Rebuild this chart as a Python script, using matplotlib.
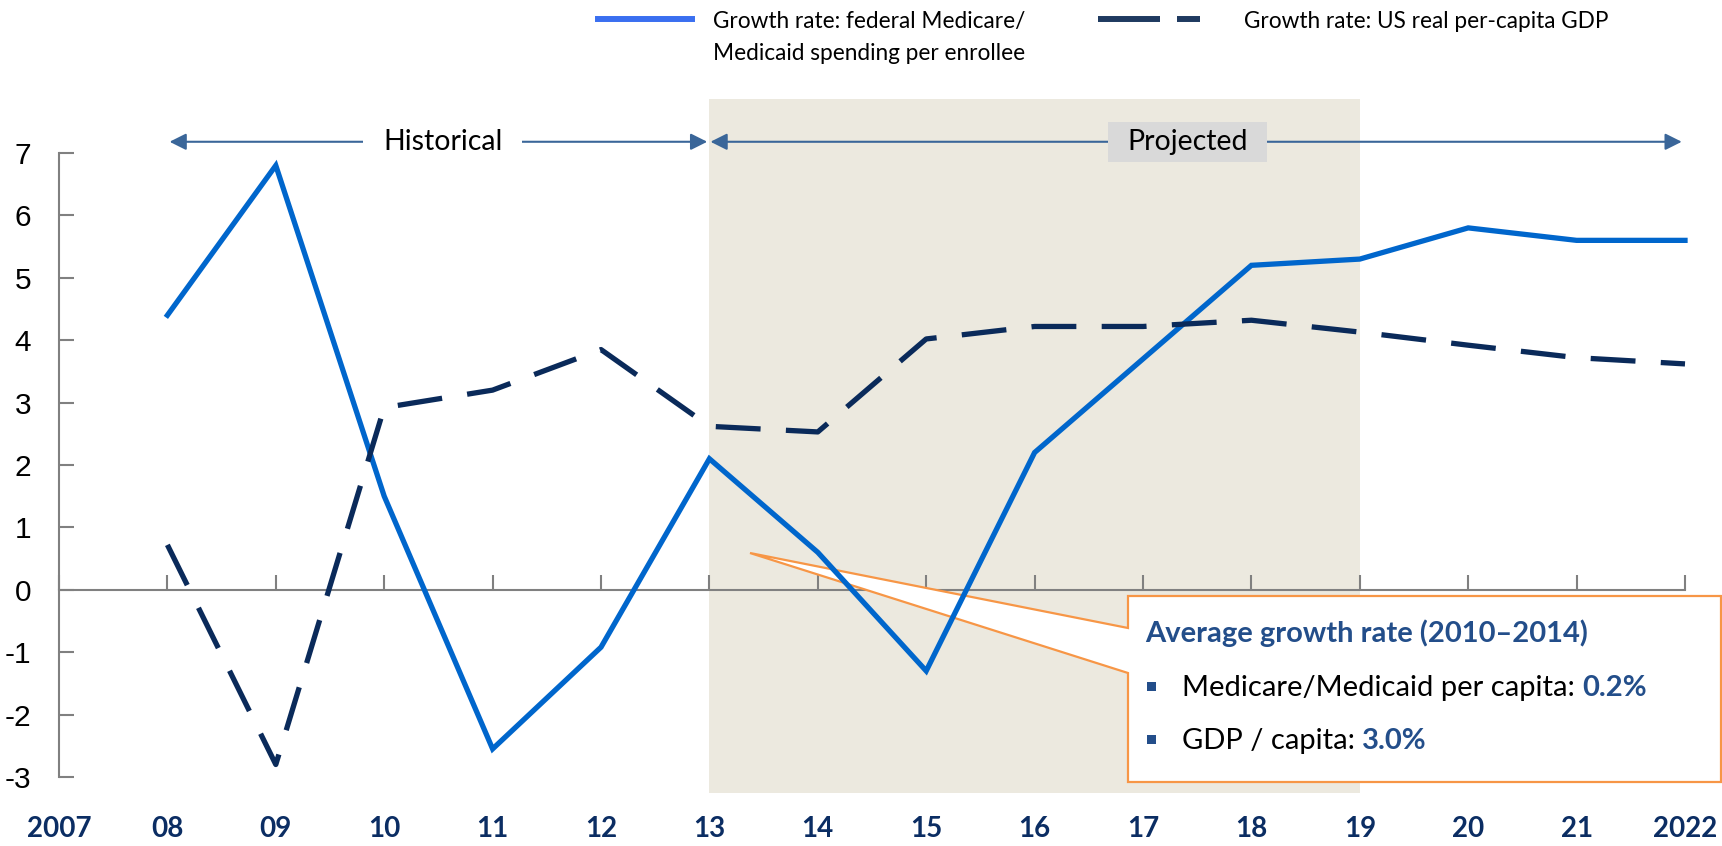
import matplotlib.pyplot as plt
from matplotlib.patches import Rectangle, Polygon
from matplotlib.lines import Line2D

# data (percent growth)
years = list(range(2008, 2023))
medicare_growth = [4.4, 6.8, 1.5, -2.55, -0.92, 2.1, 0.6, -1.3, 2.2, 3.7, 5.2, 5.3, 5.8, 5.6, 5.6]
gdp_growth = [0.72, -2.8, 2.92, 3.2, 3.85, 2.62, 2.53, 4.02, 4.22, 4.22, 4.32, 4.13, 3.92, 3.72, 3.62]

x_ticks = list(range(2007, 2023))
x_labels = ['2007', '08', '09', '10', '11', '12', '13', '14', '15', '16', '17', '18', '19', '20', '21', '2022']
y_ticks = list(range(-3, 8))

W, H = 1722, 846


def fig_xy(x, y):
    # pixel position (top-left origin) -> figure fraction
    return x / W, 1 - y / H


navy = '#0B2D63'
steel = '#3A6699'
callout_blue = '#234E8A'
orange = '#F79646'
grey = '#808080'

fig = plt.figure(figsize=(W / 100, H / 100), dpi=100)
ax = fig.add_axes([59 / W, 1 - 777 / H, (1685 - 59) / W, (777 - 153) / H])
ax.set_xlim(2007, 2022)
ax.set_ylim(-3, 7)

# projected period shading (runs past the axes)
ax.add_patch(Rectangle((2013, -3.25), 6, 11.12, fc='#ECE9DF', ec='none', zorder=0, clip_on=False))

ax.plot(years, medicare_growth, color='#0066CC', lw=3.8, zorder=4, clip_on=False, solid_joinstyle='miter')
ax.plot(years, gdp_growth, color='#0A2A5A', lw=3.8, zorder=4, clip_on=False,
        dashes=(8.5, 4.8), dash_capstyle='butt')

# axes
for s in ['top', 'right']:
    ax.spines[s].set_visible(False)
ax.spines['bottom'].set_position(('data', 0))
ax.spines['bottom'].set_color(grey)
ax.spines['bottom'].set_linewidth(1.5)
ax.spines['left'].set_color(grey)
ax.spines['left'].set_linewidth(1.5)
ax.set_xticks(x_ticks)
ax.tick_params(axis='x', direction='in', length=11, width=1.5, color=grey, labelbottom=False)
ax.set_yticks(y_ticks)
ax.set_yticklabels([str(v) for v in y_ticks], fontfamily='Liberation Sans', fontsize=21.5)
ax.tick_params(axis='y', direction='in', length=11, width=1.5, color=grey, pad=20)

for yr, lbl in zip(x_ticks, x_labels):
    ax.text(yr, -3.83, lbl, ha='center', va='center', fontfamily='Lato', fontweight='bold',
            fontsize=20, color=navy, clip_on=False)

# historical / projected arrows
arrow = dict(arrowstyle='<|-|>,head_length=0.5,head_width=0.25', lw=1.5, color=steel,
             shrinkA=0, shrinkB=0, mutation_scale=20)
ax.annotate('', xy=(2008.02, 7.18), xytext=(2012.98, 7.18), arrowprops=arrow, annotation_clip=False)
ax.annotate('', xy=(2013.01, 7.18), xytext=(2021.97, 7.18), arrowprops=arrow, annotation_clip=False)
ax.text(2010.54, 7.18, 'Historical', ha='center', va='center', fontfamily='Lato', fontsize=20.5,
        bbox=dict(boxstyle='square,pad=0.7', fc='white', ec='none'), zorder=5, clip_on=False)
ax.add_patch(Rectangle((2016.68, 6.86), 1.46, 0.64, fc='#D9D9D9', ec='none', zorder=5, clip_on=False))
ax.text(2017.41, 7.18, 'Projected', ha='center', va='center', fontfamily='Lato', fontsize=20.5,
        zorder=6, clip_on=False)

# callout box with pointer
pts = [fig_xy(*p) for p in [(1128, 596), (1721, 596), (1721, 782), (1128, 782),
                            (1128, 673), (750, 553), (1128, 628)]]
ax.add_patch(Polygon(pts, closed=True, transform=fig.transFigure, fc='white', ec=orange,
                     lw=1.6, zorder=3, clip_on=False))

fig.text(*fig_xy(1145, 642), 'Average growth rate (2010–2014)', fontfamily='Lato', fontweight='bold',
         fontsize=21, color=callout_blue, va='baseline', zorder=6)
for yb, label, val in [(696, 'Medicare/Medicaid per capita:', '0.2%'), (749, 'GDP / capita:', '3.0%')]:
    bx, by = fig_xy(1147, yb - 5)
    fig.add_artist(Rectangle((bx, by), 9 / W, 9 / H, transform=fig.transFigure, fc=callout_blue, ec='none'))
    t = fig.text(*fig_xy(1182, yb), label, fontfamily='Lato', fontsize=21, color='black', va='baseline')
    ax.annotate(val, xy=(1, 0), xycoords=t, xytext=(5, 0), textcoords='offset points',
                va='bottom', ha='left', fontfamily='Lato', fontweight='bold', fontsize=21, color=callout_blue)

# legend
fig.add_artist(Line2D([598 / W, 692 / W], [1 - 19 / H] * 2, color='#3A6FF0', lw=4.3))
fig.text(*fig_xy(713, 28), 'Growth rate: federal Medicare/', fontfamily='Lato', fontsize=16.3, va='baseline')
fig.text(*fig_xy(713, 60), 'Medicaid spending per enrollee', fontfamily='Lato', fontsize=16.3, va='baseline')
fig.add_artist(Line2D([1098 / W, 1160 / W], [1 - 19 / H] * 2, color='#1F3A60', lw=4.3, solid_capstyle='butt'))
fig.add_artist(Line2D([1177 / W, 1200 / W], [1 - 19 / H] * 2, color='#1F3A60', lw=4.3, solid_capstyle='butt'))
fig.text(*fig_xy(1244, 28), 'Growth rate: US real per-capita GDP', fontfamily='Lato', fontsize=16.3, va='baseline')

fig.savefig('out.png', dpi=100, facecolor='white')
